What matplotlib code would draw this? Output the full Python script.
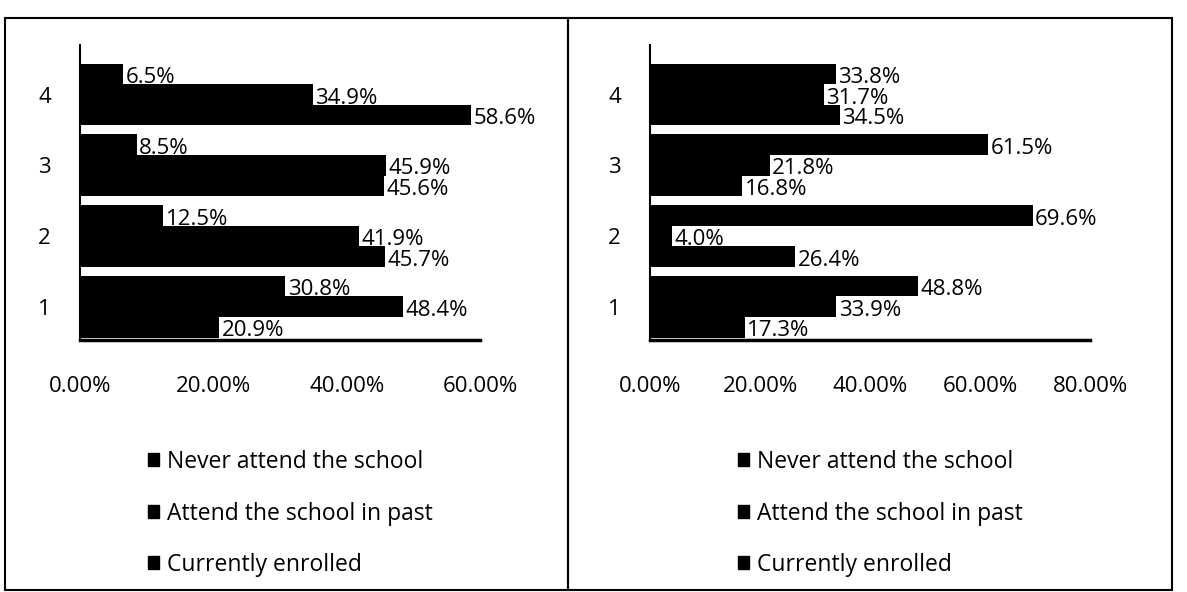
import numpy as np
import matplotlib
matplotlib.use("Agg")
import matplotlib.pyplot as plt
from matplotlib.patches import Rectangle, Patch

plt.rcParams['font.family'] = ['Open Sans', 'DejaVu Sans']

# Data
groups = [1, 2, 3, 4]
series = ["Never attend the school", "Attend the school in past", "Currently enrolled"]

left_never = [30.8, 12.5, 8.5, 6.5]
left_past = [48.4, 41.9, 45.9, 34.9]
left_current = [20.9, 45.7, 45.6, 58.6]

right_never = [48.8, 69.6, 61.5, 33.8]
right_past = [33.9, 4.0, 21.8, 31.7]
right_current = [17.3, 26.4, 16.8, 34.5]

left_ticks = [0, 20, 40, 60]
right_ticks = [0, 20, 40, 60, 80]

W, H = 1187, 592
fig = plt.figure(figsize=(W / 100, H / 100), dpi=100)


def px(x0, y0, x1, y1):
    # pixel box -> figure fraction [left, bottom, width, height]
    return [x0 / W, 1 - y1 / H, (x1 - x0) / W, (y1 - y0) / H]


def draw_panel(rect, never, past, current, ticks, legend_xy):
    ax = fig.add_axes(rect)
    y = np.array(groups, dtype=float)
    h = 0.29
    vals = [never, past, current]
    offs = [h, 0, -h]
    for v, o in zip(vals, offs):
        ax.barh(y + o, np.array(v) / 100, height=h, color="black")
        for yy, vv in zip(y + o, v):
            ax.text(vv / 100 + 0.004, yy - 0.05, f"{vv:.1f}%", va="center", ha="left",
                    fontsize=16, color="black")
    ax.set_xlim(0, ticks[-1] / 100)
    ax.set_ylim(0.53, 4.7)
    ax.set_xticks(np.array(ticks) / 100)
    ax.set_xticklabels([f"{t:.2f}%" for t in ticks], fontsize=16)
    ax.set_yticks(groups)
    ax.set_yticklabels([str(g) for g in groups], fontsize=16)
    ax.tick_params(axis="x", length=0, pad=26)
    ax.tick_params(axis="y", length=0, pad=21)
    for s in ["top", "right"]:
        ax.spines[s].set_visible(False)
    ax.spines["bottom"].set_linewidth(2.5)
    ax.spines["left"].set_linewidth(1.5)

    handles = [Patch(facecolor="black", edgecolor="black") for _ in series]
    fig.legend(handles, series, loc="upper left",
               bbox_to_anchor=(legend_xy[0] / W, 1 - legend_xy[1] / H),
               frameon=False, fontsize=16.5, handlelength=0.5, handleheight=0.5,
               handletextpad=0.35, labelspacing=1.2, borderaxespad=0,
               borderpad=0)
    return ax


draw_panel(px(80, 45, 480, 340), left_never, left_past, left_current,
           left_ticks, (148, 450))
draw_panel(px(650, 45, 1090, 340), right_never, right_past, right_current,
           right_ticks, (738, 450))

# panel borders
for x0, x1 in [(5, 568), (568, 1172)]:
    fig.patches.append(Rectangle((x0 / W, 1 - 590 / H), (x1 - x0) / W, (590 - 18) / H,
                                 transform=fig.transFigure, fill=False,
                                 edgecolor="black", linewidth=1.5))

fig.savefig("out.png", dpi=100, facecolor="white")
